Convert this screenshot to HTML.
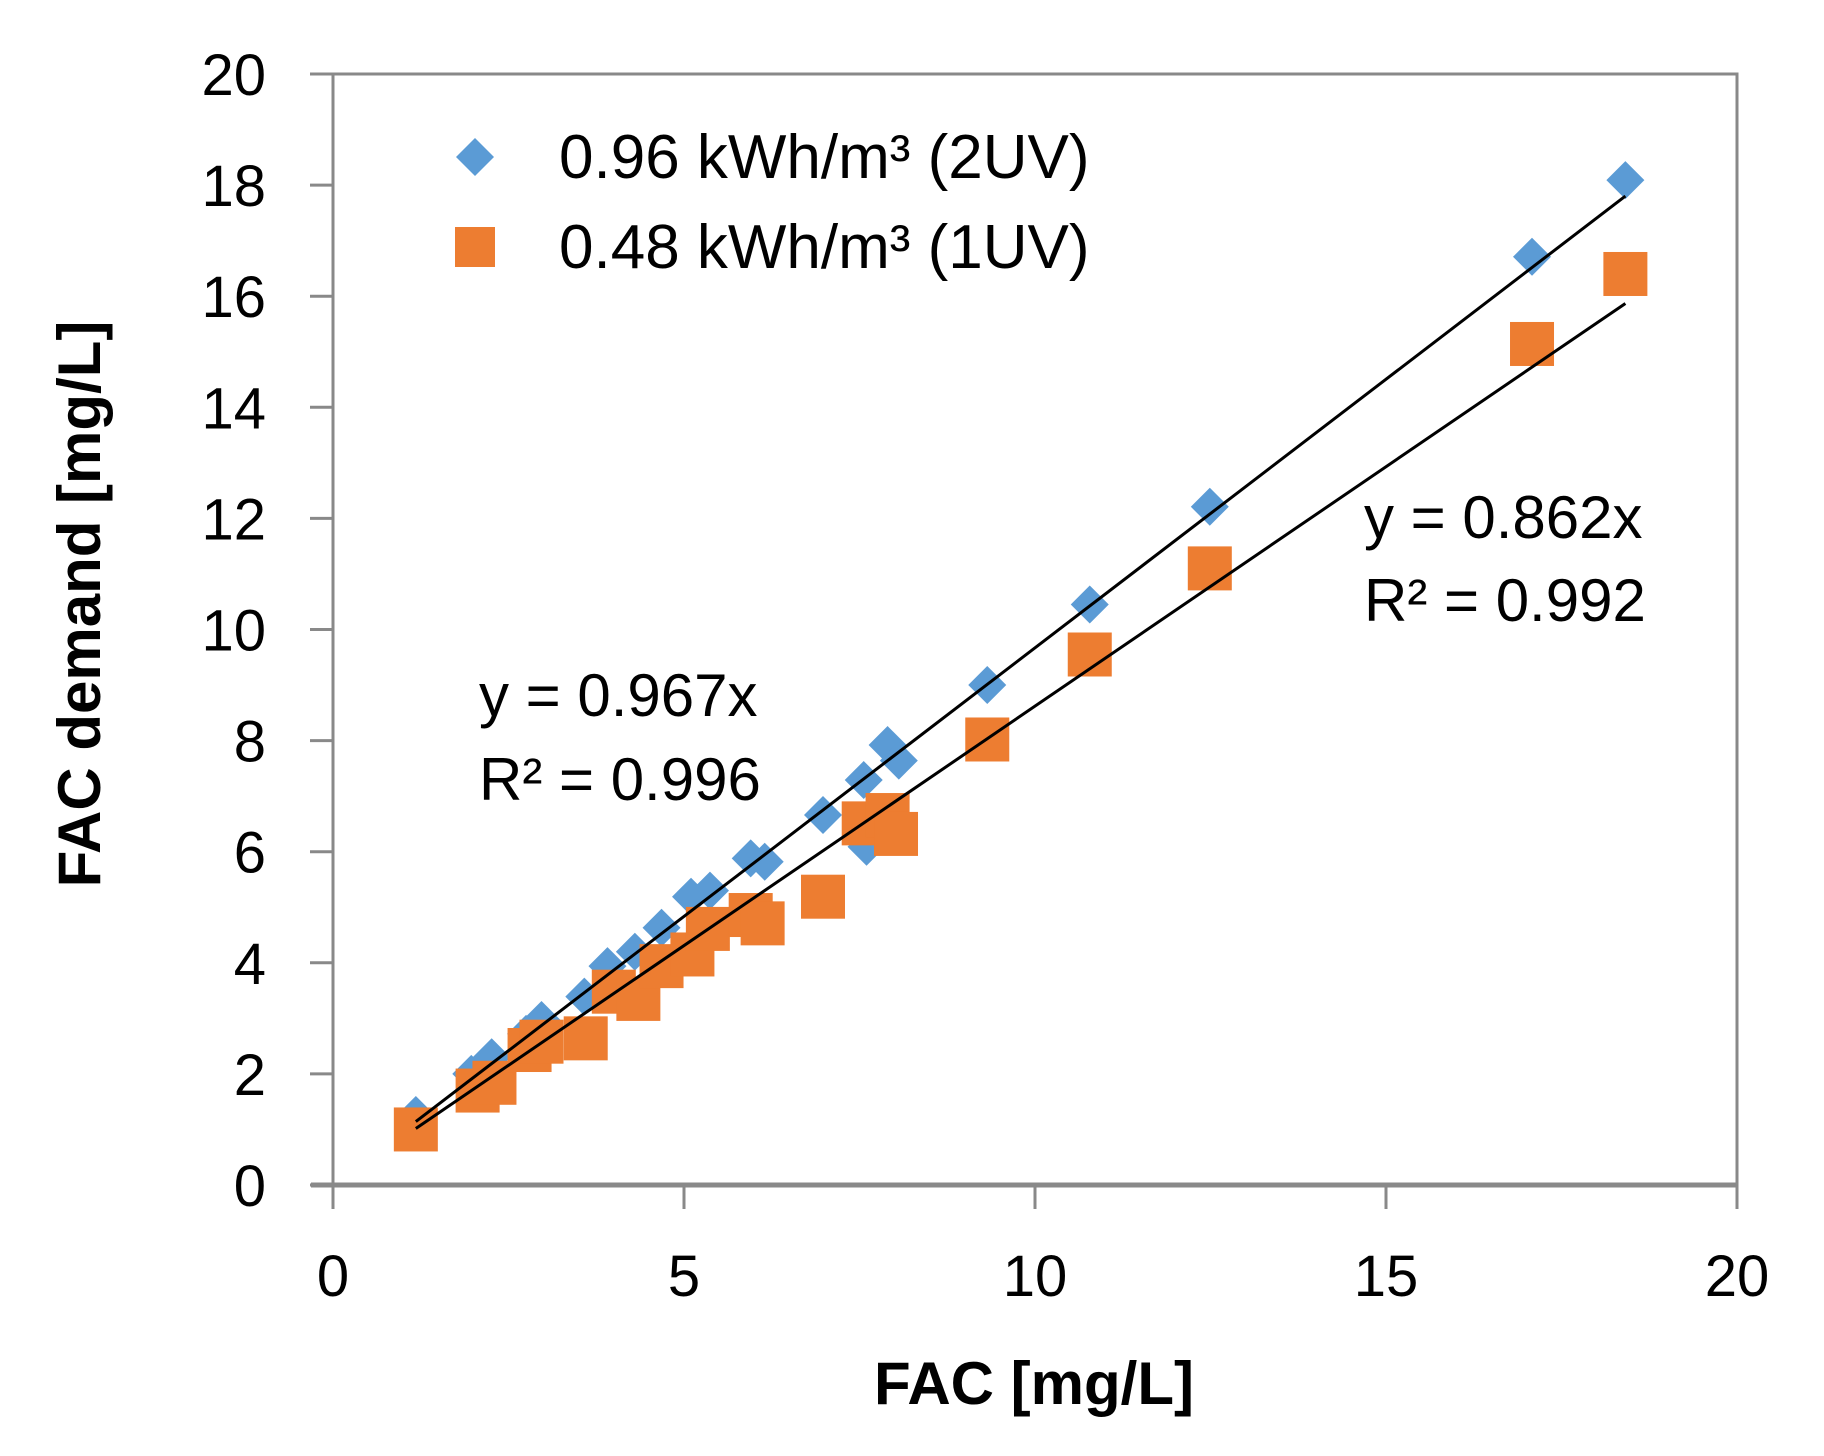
<!DOCTYPE html>
<html><head><meta charset="utf-8"><style>
html,body{margin:0;padding:0;background:#fff;}
svg{display:block;}
text{font-family:"Liberation Sans",sans-serif;fill:#000;}
</style></head><body>
<svg id="chart" width="1824" height="1456" viewBox="0 0 1824 1456">
<g id="grid"></g>
<g id="marks"></g>
</svg>
<script>
const xTicks=[0,5,10,15,20];
const yTicks=[0,2,4,6,8,10,12,14,16,18,20];
const blueX=[1.18,1.97,2.26,2.75,2.97,3.58,3.91,4.3,4.68,5.1,5.37,5.95,6.15,6.98,7.56,7.6,7.9,8.06,9.32,10.78,12.49,17.08,18.41];
const blueY=[1.26,2.0,2.3,2.72,2.97,3.39,3.94,4.2,4.63,5.19,5.3,5.88,5.82,6.66,7.29,6.09,7.92,7.64,9.0,10.45,12.21,16.71,18.09];
const orangeX=[1.18,2.06,2.3,2.8,2.97,3.6,4.0,4.35,4.68,5.12,5.34,5.95,6.12,6.98,7.56,7.9,8.02,9.32,10.78,12.49,17.08,18.41];
const orangeY=[1.0,1.7,1.84,2.43,2.58,2.64,3.48,3.35,3.94,4.15,4.61,4.86,4.71,5.19,6.51,6.66,6.32,8.02,9.55,11.1,15.14,16.4];
const slopes=[0.967,0.862];
const trendRange=[1.18,18.41];

const L=333,R=1737,T=74,B=1185;
const sx=v=>L+(R-L)*v/20;
const sy=v=>B-(B-T)*v/20;
const NS='http://www.w3.org/2000/svg';
const grid=document.getElementById('grid');
const marks=document.getElementById('marks');
function mk(tag,attrs,parent){const e=document.createElementNS(NS,tag);for(const k in attrs)e.setAttribute(k,attrs[k]);parent.appendChild(e);return e;}

const frame=mk('rect',{x:L,y:T,width:R-L,height:B-T,fill:'none',stroke:'#898989','stroke-width':3},grid);


const xaxis=mk('line',{x1:L-22,y1:B,x2:R,y2:B,stroke:'#898989','stroke-width':5},grid);



yTicks.forEach(v=>{
  const t=mk('line',{x1:L-23,y1:sy(v),x2:L,y2:sy(v),stroke:'#898989','stroke-width':3},grid);
  
  
  const lb=mk('text',{x:266,y:sy(v)+21,'text-anchor':'end','font-size':58},grid);
  lb.textContent=v;
  
  
});
xTicks.forEach(v=>{
  const t=mk('line',{x1:sx(v),y1:B,x2:sx(v),y2:B+24,stroke:'#898989','stroke-width':3},grid);
  
  
  const lb=mk('text',{x:sx(v),y:1296,'text-anchor':'middle','font-size':58},grid);
  lb.textContent=v;
  
  
});

blueX.forEach((x,i)=>{
  const cx=sx(x),cy=sy(blueY[i]),r=19;
  const p=mk('polygon',{points:`${cx},${cy-r} ${cx+r},${cy} ${cx},${cy+r} ${cx-r},${cy}`,fill:'#5b9bd5'},marks);
  
  
});
orangeX.forEach((x,i)=>{
  const cx=sx(x),cy=sy(orangeY[i]),s=44;
  const p=mk('rect',{x:cx-s/2,y:cy-s/2,width:s,height:s,fill:'#ed7d31'},marks);
  
  
});
slopes.forEach((m,i)=>{
  const l=mk('line',{x1:sx(trendRange[0]),y1:sy(m*trendRange[0]),x2:sx(trendRange[1]),y2:sy(m*trendRange[1]),stroke:'#000','stroke-width':3},marks);
  
  
});
</script>
<svg style="position:absolute;left:0;top:0" width="1824" height="1456">
<g>
<polygon points="475,138 494,157 475,176 456,157" fill="#5b9bd5"/>
<text x="559" y="178" font-size="62">0.96 kWh/m³ (2UV)</text>
<rect x="455" y="227" width="40" height="40" fill="#ed7d31"/>
<text x="559" y="268" font-size="62">0.48 kWh/m³ (1UV)</text>
</g>
<text x="479" y="716" font-size="60">y = 0.967x</text>
<text x="479" y="800" font-size="60">R² = 0.996</text>
<text x="1364" y="538" font-size="60">y = 0.862x</text>
<text x="1364" y="621" font-size="60">R² = 0.992</text>
<text x="1034" y="1404" text-anchor="middle" font-size="60" font-weight="bold">FAC [mg/L]</text>
<text transform="translate(100,604) rotate(-90)" text-anchor="middle" font-size="60" font-weight="bold">FAC demand [mg/L]</text>
</svg>
</body></html>
